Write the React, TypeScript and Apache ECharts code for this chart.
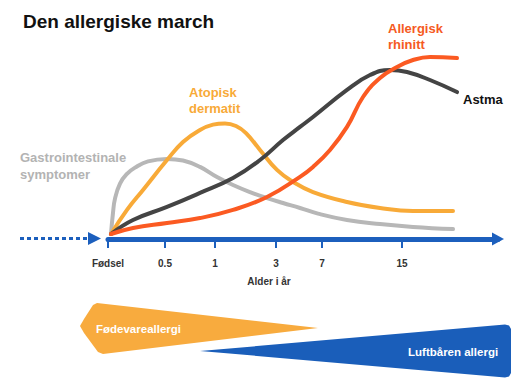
import React, { useEffect, useRef } from "react";
import * as echarts from "echarts";

// Axis positions (horizontal position units) of the age ticks and their labels
const tickPositions = [0, 57, 107, 168, 214, 294];
const tickLabels = ["Fødsel", "0.5", "1", "3", "7", "15"];

// Curves: [position, relative prevalence]
const gastro: [number, number][] = [
  [3, 0], [5, 12], [7, 20], [12, 28.5], [19, 34], [27, 37.5], [40, 41], [59, 42.4],
  [75, 41.5], [92, 37.9], [109, 32.2], [125, 27.7], [142, 23.7], [159, 20.3], [175, 17.5],
  [192, 14.7], [210, 11.5], [239, 7.9], [272, 5.6], [305, 4.0], [345, 2.8],
];
const dermatit: [number, number][] = [
  [3, 0], [19, 13.6], [35, 24.9], [59, 41.8], [75, 52], [92, 58.8], [105, 61.8], [117, 62.5],
  [128, 61], [138, 57], [152, 47.5], [169, 36.2], [185, 29.4], [205, 23.7], [239, 18.1],
  [272, 14.7], [305, 13.0], [345, 13.0],
];
const astma: [number, number][] = [
  [3, 0], [25, 7.9], [59, 15.3], [92, 23.2], [125, 31.6], [152, 41.8], [175, 53.1], [192, 60.5],
  [205, 66.1], [239, 81.4], [262, 89.8], [282, 92.7], [299, 91.5], [322, 87.0], [349, 80.2],
];
const rhinitt: [number, number][] = [
  [3, 0], [25, 3.4], [59, 6.2], [92, 9.0], [125, 13.6], [159, 20.9], [192, 32.3], [205, 37.9],
  [222, 47.5], [239, 60.5], [255, 77.4], [272, 88.1], [289, 94.4], [305, 98.3], [322, 100],
  [349, 99.4],
];

const FONT = "'Liberation Sans', Arial, Helvetica, sans-serif";
const BLUE = "#1c5fbd";
const GRAY = "#b7b7b7";
const ORANGE = "#f8aa38";
const DARK = "#444444";
const RED = "#fb5a22";

export default function App() {
  const ref = useRef<HTMLDivElement>(null);
  useEffect(() => {
    if (!ref.current) return;
    const chart = echarts.init(ref.current, null, { renderer: "svg" });
    const line = (name: string, data: [number, number][], color: string) => ({
      name,
      type: "line",
      data,
      smooth: 0.45,
      showSymbol: false,
      symbol: "none",
      lineStyle: { width: 4, color, cap: "round" },
      itemStyle: { color },
      z: 3,
    });
    chart.setOption({
      animation: false,
      textStyle: { fontFamily: FONT },
      grid: { left: 108, right: 22, top: 57, bottom: 144, containLabel: false },
      xAxis: {
        type: "value",
        min: 0,
        max: 390,
        offset: 5,
        splitLine: { show: false },
        axisLine: {
          show: true,
          onZero: false,
          symbol: ["none", "triangle"],
          symbolSize: [13, 12],
          lineStyle: { color: BLUE, width: 5 },
        },
        axisTick: {
          show: true,
          customValues: tickPositions,
          length: 9,
          lineStyle: { color: BLUE, width: 2 },
        },
        axisLabel: {
          customValues: tickPositions,
          margin: 19,
          fontSize: 10,
          fontWeight: "bold",
          color: "#333",
          fontFamily: FONT,
          formatter: (v: number) => {
            const i = tickPositions.indexOf(Math.round(v));
            return i >= 0 ? tickLabels[i] : "";
          },
        },
      },
      yAxis: {
        type: "value",
        min: 0,
        max: 100,
        show: false,
      },
      series: [
        line("Gastrointestinale symptomer", gastro, GRAY),
        line("Atopisk dermatit", dermatit, ORANGE),
        line("Astma", astma, DARK),
        line("Allergisk rhinitt", rhinitt, RED),
      ],
      graphic: [
        {
          type: "text",
          left: 23,
          top: 12,
          style: { text: "Den allergiske march", fontSize: 19, fontWeight: "bold", fill: "#111", fontFamily: FONT },
        },
        {
          type: "text",
          x: 20,
          y: 149,
          style: { text: "Gastrointestinale\nsymptomer", fontSize: 13, lineHeight: 17, fontWeight: "bold", fill: "#b3b3b3", fontFamily: FONT },
        },
        {
          type: "text",
          x: 189,
          y: 85,
          style: { text: "Atopisk\ndermatit", fontSize: 13, lineHeight: 15.5, fontWeight: "bold", fill: ORANGE, fontFamily: FONT },
        },
        {
          type: "text",
          x: 388,
          y: 20,
          style: { text: "Allergisk\nrhinitt", fontSize: 13, lineHeight: 16, fontWeight: "bold", fill: "#f55a23", fontFamily: FONT },
        },
        {
          type: "text",
          x: 463,
          y: 93,
          style: { text: "Astma", fontSize: 13, fontWeight: "bold", fill: "#111", fontFamily: FONT },
        },
        {
          type: "text",
          x: 269,
          y: 281,
          style: { text: "Alder i år", fontSize: 10, fontWeight: "bold", fill: "#333", fontFamily: FONT, align: "center", verticalAlign: "middle" },
        },
        {
          type: "line",
          shape: { x1: 20, y1: 238.5, x2: 87, y2: 238.5 },
          style: { stroke: BLUE, lineWidth: 3, lineDash: [4, 3] },
        },
        {
          type: "polygon",
          shape: { points: [[88, 232], [101, 238.5], [88, 245]] },
          style: { fill: BLUE },
        },
        {
          type: "polygon",
          shape: { points: [[80, 326], [84, 319], [93, 305], [97, 303], [318, 328], [103, 354], [98, 352], [84, 333]] },
          style: { fill: "#f8ab3e" },
        },
        {
          type: "text",
          x: 96,
          y: 329,
          style: { text: "Fødevareallergi", fontSize: 11.5, fontWeight: "bold", fill: "#fff", fontFamily: FONT, verticalAlign: "middle" },
        },
        {
          type: "polygon",
          shape: { points: [[200, 351], [505, 324.5], [509, 325.5], [511, 329], [511, 373], [509, 376.5], [505, 377.5]] },
          style: { fill: "#1a5eba" },
        },
        {
          type: "text",
          x: 408,
          y: 352,
          style: { text: "Luftbåren allergi", fontSize: 11.5, fontWeight: "bold", fill: "#fff", fontFamily: FONT, verticalAlign: "middle" },
        },
      ],
    });
    return () => chart.dispose();
  }, []);
  return (
    <div
      ref={ref}
      style={{ position: "fixed", left: 0, top: 0, width: 520, height: 378, background: "#fff" }}
    />
  );
}
